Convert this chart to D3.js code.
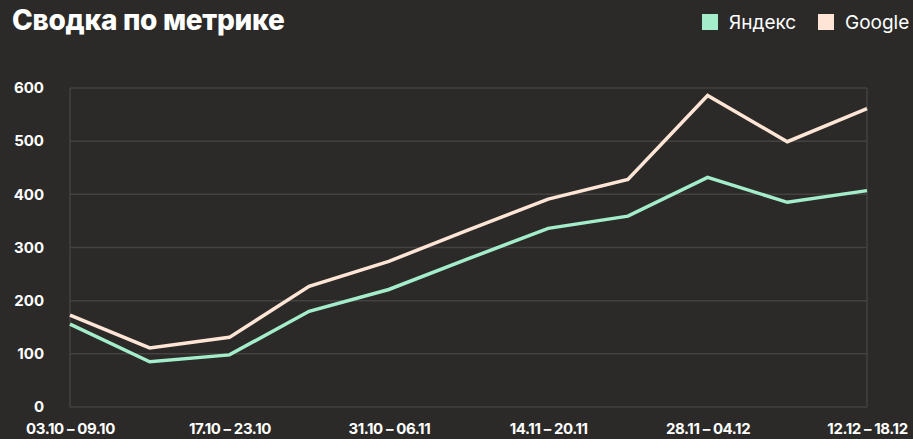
<!DOCTYPE html>
<html>
<head>
<meta charset="utf-8">
<script src="https://cdn.jsdelivr.net/npm/d3@7"></script>
<style>
  html, body { margin: 0; padding: 0; background: #2b2a28; }
  svg { display: block; font-family: Inter, "Noto Sans", sans-serif; }
</style>
</head>
<body>
<div id="chart"></div>
<script>
// Data
var weeks = ["03.10 – 09.10", "10.10 – 16.10", "17.10 – 23.10", "24.10 – 30.10",
  "31.10 – 06.11", "07.11 – 13.11", "14.11 – 20.11", "21.11 – 27.11",
  "28.11 – 04.12", "05.12 – 11.12", "12.12 – 18.12"];
var yandex = [156, 85, 98, 180, 221, 279, 336, 359, 432, 385, 407];
var google = [173, 111, 131, 227, 274, 333, 391, 428, 586, 499, 561];
var yTicks = [0, 100, 200, 300, 400, 500, 600];
var seriesNames = ["Яндекс", "Google"];
var seriesColors = ["#a4edcb", "#ffe5d6"];

var svgWidth = 913;
var svgHeight = 439;

var margin = { top: 88, right: 46, bottom: 32, left: 70 };
var width = svgWidth - margin.left - margin.right;
var height = svgHeight - margin.top - margin.bottom;

var svg = d3.select("#chart")
  .append("svg")
  .attr("width", svgWidth)
  .attr("height", svgHeight);

svg.append("rect")
  .attr("width", svgWidth)
  .attr("height", svgHeight)
  .attr("fill", "#2b2a28");

// title
svg.append("text")
  .attr("x", 12)
  .attr("y", 30)
  .attr("fill", "#ffffff")
  .attr("font-size", 28)
  .attr("font-weight", 800)
  .attr("letter-spacing", "-0.3")
  .text("Сводка по метрике");

// legend
var legendX = [702, 818];
seriesNames.forEach(function(name, i) {
  svg.append("rect")
    .attr("x", legendX[i])
    .attr("y", 14)
    .attr("width", 16)
    .attr("height", 16)
    .attr("fill", seriesColors[i]);
  svg.append("text")
    .attr("x", legendX[i] + 27)
    .attr("y", 29)
    .attr("fill", "#ffffff")
    .attr("font-size", 19)
    .text(name);
});

var chartGroup = svg.append("g")
  .attr("transform", `translate(${margin.left}, ${margin.top})`);

var xScale = d3.scalePoint()
  .domain(weeks)
  .range([0, width]);

var yScale = d3.scaleLinear()
  .domain([0, 600])
  .range([height, 0]);

// grid
chartGroup.selectAll(".grid")
  .data(yTicks)
  .enter()
  .append("line")
  .attr("x1", 0)
  .attr("x2", width)
  .attr("y1", d => yScale(d))
  .attr("y2", d => yScale(d))
  .attr("stroke", "#444240")
  .attr("stroke-width", 1.5);

[0, width].forEach(function(x) {
  chartGroup.append("line")
    .attr("x1", x).attr("x2", x)
    .attr("y1", 0).attr("y2", height)
    .attr("stroke", "#444240")
    .attr("stroke-width", 1.5);
});

// y axis
var leftAxis = d3.axisLeft(yScale).tickValues(yTicks).tickSize(0).tickPadding(26);
chartGroup.append("g")
  .call(leftAxis)
  .call(g => g.select(".domain").remove())
  .selectAll("text")
  .attr("fill", "#ffffff")
  .attr("font-size", 15)
  .attr("font-weight", 700)
  .attr("font-family", "Inter, sans-serif");

// x axis
var bottomAxis = d3.axisBottom(xScale)
  .tickValues(weeks.filter((d, i) => i % 2 === 0))
  .tickSize(0)
  .tickPadding(16);
chartGroup.append("g")
  .attr("transform", `translate(0, ${height})`)
  .call(bottomAxis)
  .call(g => g.select(".domain").remove())
  .selectAll("text")
  .attr("fill", "#ffffff")
  .attr("font-size", 15)
  .attr("font-weight", 700)
  .attr("letter-spacing", "-0.4")
  .attr("font-family", "Inter, sans-serif");

// lines
var line = d3.line()
  .x((d, i) => xScale(weeks[i]))
  .y(d => yScale(d));

[yandex, google].forEach(function(series, i) {
  chartGroup.append("path")
    .datum(series)
    .attr("d", line)
    .attr("fill", "none")
    .attr("stroke", seriesColors[i])
    .attr("stroke-width", 3.5)
    .attr("stroke-linejoin", "miter");
});
</script>
</body>
</html>
